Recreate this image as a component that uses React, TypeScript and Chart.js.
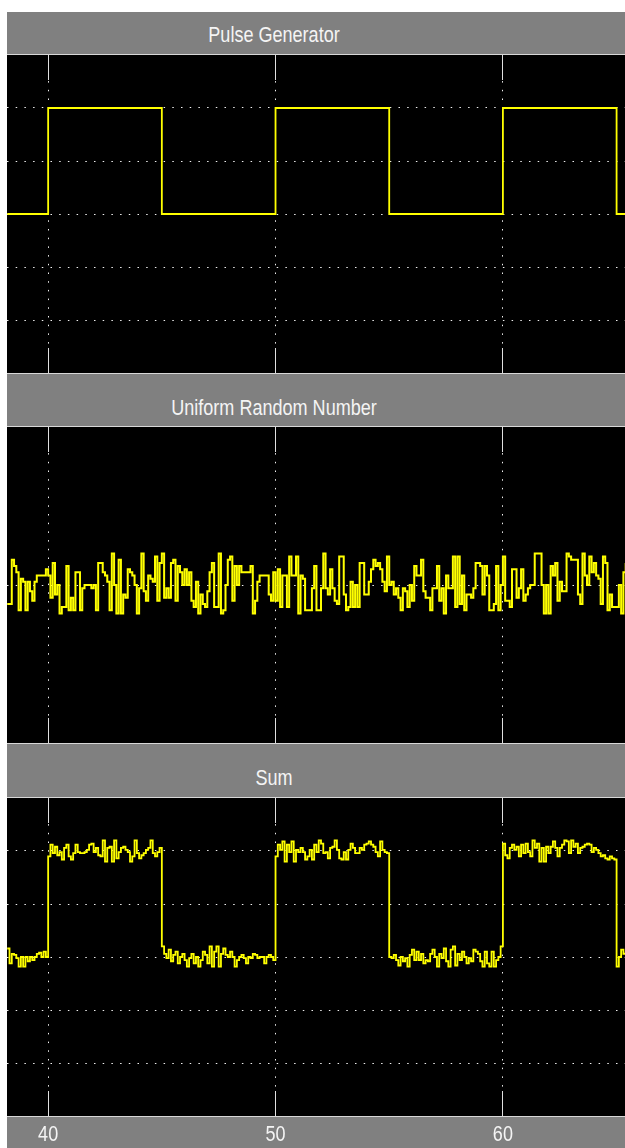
import React, { useEffect, useRef } from "react";
import { Chart, registerables } from "chart.js";
Chart.register(...registerables);

// ---- data ----
const X_MIN = 38.19;
const X_MAX = 65.37;
const X_TICKS = [40, 50, 60];
const X_TICK_LABELS = ["40", "50", "60"];
const PANEL_TITLES = ["Pulse Generator", "Uniform Random Number", "Sum"];

const SAMPLE_START = 38.2;
const SAMPLE_TIME = 0.1;

const PULSE_TIMES = [38.2, 40, 45, 50, 55, 60, 65, 65.4];
const PULSE_VALUES = [0, 1, 0, 1, 0, 1, 0, 0];

const RANDOM_VALUES = [
  -0.06, -0.06, 0.08, 0.06, 0.04, -0.08, 0.02, 0.01, -0.08, 0.01, -0.02, -0.05, 0.01, 0.03, 0.03, 0.03, 0.03, 0.05, 0.03, -0.04,
  0.07, -0.03, 0.0, -0.09, -0.07, -0.07, 0.06, -0.08, -0.04, -0.08, 0.04, 0.04, -0.08, -0.01, 0.0, 0.0, 0.0, -0.01, 0.0, -0.08,
  0.07, 0.07, 0.04, 0.03, 0.01, -0.08, 0.1, 0.0, -0.09, 0.08, -0.09, -0.03, -0.04, 0.05, 0.04, 0.03, 0.0, -0.09, -0.01, 0.1,
  -0.02, -0.05, 0.03, 0.02, 0.01, 0.09, -0.05, 0.07, 0.1, -0.04, -0.01, -0.04, 0.07, 0.08, -0.05, 0.06, 0.04, 0.0, 0.05, 0.0,
  0.04, -0.05, -0.07, 0.01, -0.09, -0.03, -0.06, -0.07, -0.02, 0.04, 0.07,
  -0.07, -0.07, 0.1, -0.09, -0.08, 0.0, 0.08, 0.09, -0.05, 0.06, 0.0, 0.06, 0.04, 0.04, 0.04, 0.04, 0.06, -0.09, -0.05, 0.01,
  0.03, 0.03, 0.03, 0.03, -0.03, -0.05, 0.04, -0.05, 0.05, -0.07, 0.03, 0.03, -0.07, 0.09, 0.03, 0.03, 0.09, -0.09, 0.03, 0.02,
  -0.08, -0.08, -0.08, -0.01, 0.06, -0.08, -0.08, -0.01, 0.1, -0.01, -0.03, 0.05, -0.01, -0.05, -0.06, 0.09, 0.09, -0.03, -0.08, -0.07,
  0.01, -0.07, 0.0, -0.07, 0.07, 0.07, -0.03, -0.03, 0.01, 0.05, 0.08, 0.06, 0.07, 0.05, 0.01, -0.02, 0.09, 0.0, 0.01, -0.03,
  -0.01, -0.04, -0.08, -0.01, -0.02, -0.07, 0.0, -0.05, 0.06, 0.03, 0.03,
  0.08, -0.02, -0.04, -0.04, -0.08, -0.01, -0.01, 0.06, -0.05, -0.01, -0.09, 0.03, -0.01, -0.01, 0.09, -0.07, 0.09, -0.06, 0.03, -0.08,
  -0.03, -0.03, -0.04, -0.01, 0.07, 0.07, 0.06, -0.03, 0.06, 0.03, -0.08, -0.08, -0.06, 0.06, -0.08, 0.0, 0.09, -0.05, -0.05, -0.07,
  0.05, 0.05, -0.04, -0.01, 0.05, -0.05, -0.03, -0.01, 0.0, 0.0, 0.1, 0.1, 0.1, 0.0, -0.09, 0.0, -0.09, 0.06, 0.03, 0.07,
  -0.05, 0.01, -0.02, -0.02, 0.1, 0.09, 0.08, 0.08, 0.08, -0.03, -0.06, 0.1, 0.03, 0.0, 0.09, 0.04, 0.07, 0.03, 0.02, -0.06,
  0.09, 0.07, -0.08, -0.03, -0.07, -0.07, -0.07, 0.0, -0.09, 0.04, 0.07,
];

const SUM_VALUES = [
  0.08, -0.06, 0.03, 0.02, -0.01, -0.09, 0.0, -0.09, 0.0, -0.04, 0.0, -0.03, 0.0, 0.03, 0.04, 0.0, 0.05, 0.0,
  0.95, 1.06, 0.98, 1.04, 0.96, 0.99, 0.92, 1.03, 1.06, 0.95, 0.92, 0.98, 1.06, 0.99, 0.98, 0.98, 0.99, 1.01, 1.06, 1.07,
  0.99, 1.03, 0.96, 0.95, 1.1, 0.9, 1.03, 1.04, 0.9, 1.1, 0.93, 0.99, 1.03, 1.04, 1.01, 0.99, 0.9, 0.95, 1.1, 0.98,
  0.93, 0.96, 0.98, 1.01, 1.03, 1.1, 0.98, 0.95, 0.99, 1.03,
  0.1, 0.03, -0.01, 0.07, -0.04, 0.02, 0.05, -0.06, 0.0, 0.03, -0.03, -0.09, -0.01, 0.03, -0.06, 0.0, -0.09, -0.03, 0.05, 0.02,
  -0.06, 0.1, -0.09, 0.05, 0.1, -0.09, 0.03, 0.08, 0.02, 0.0, 0.05, 0.0, -0.09, -0.03, 0.0, 0.02, -0.01, -0.06, 0.0, -0.01,
  0.03, 0.02, -0.01, 0.0, 0.0, -0.06, 0.0, 0.02, 0.0, -0.03,
  0.95, 1.06, 1.01, 1.09, 0.9, 1.06, 0.99, 1.09, 0.9, 1.01, 0.99, 1.03, 0.99, 0.92, 0.95, 1.01, 0.92, 1.06, 0.99, 1.1,
  1.07, 0.98, 0.99, 0.93, 1.03, 1.04, 1.1, 1.01, 0.93, 0.92, 0.99, 0.92, 1.01, 1.07, 1.03, 0.98, 0.98, 1.03, 1.01, 1.06,
  1.07, 1.09, 1.06, 1.04, 0.99, 0.95, 1.09, 1.01, 0.99, 0.98,
  0.0, -0.01, 0.02, -0.03, -0.08, 0.0, -0.04, -0.01, -0.09, 0.02, 0.07, -0.03, 0.05, -0.03, 0.03, -0.06, -0.03, -0.04, 0.03, 0.07,
  0.0, -0.09, 0.03, -0.01, 0.08, -0.04, -0.09, 0.07, 0.1, -0.08, 0.03, -0.03, 0.05, 0.0, -0.06, -0.01, -0.04, 0.07, 0.05, 0.03,
  -0.04, -0.09, 0.05, -0.06, -0.09, 0.05, -0.09, -0.03, 0.0, 0.1,
  1.07, 0.96, 0.93, 1.03, 1.06, 1.01, 1.04, 0.95, 1.06, 0.98, 1.07, 0.99, 0.95, 1.1, 1.03, 1.07, 0.9, 1.03, 0.9, 1.04,
  0.98, 1.04, 1.09, 1.03, 0.95, 1.03, 1.06, 1.1, 1.09, 0.98, 1.1, 1.04, 1.07, 0.98, 1.03, 1.04, 1.06, 1.07, 1.06, 0.99,
  1.03, 1.01, 0.98, 0.95, 0.96, 0.93, 0.92, 0.95, 0.93, 0.92,
  -0.09, 0.0, 0.07, 0.03, 0.05,
];

const PULSE_Y_RANGE = [-1.5, 1.5];
const PULSE_Y_GRID = [-1, -0.5, 0, 0.5, 1];
const RANDOM_Y_RANGE = [-0.5, 0.5];
const RANDOM_Y_GRID = [0];
const SUM_Y_RANGE = [-1.5, 1.5];
const SUM_Y_GRID = [-1, -0.5, 0, 0.5, 1];

// ---- style ----
const GRAY = "#808080";
const LINE_LIGHT = "#d8d8d8";
const GRID_COLOR = "#f0f0f0";
const TICK_COLOR = "#e0e0e0";
const TRACE = "#ffff00";
const TEXT = "#f4f4f4";
const FONT = "'Liberation Sans', Arial, sans-serif";
const WIDTH = 618;
const TICK_LEN = 25;

type Pt = { x: number; y: number };

function samplePoints(values: number[]): Pt[] {
  return values.map((v, i) => ({ x: SAMPLE_START + i * SAMPLE_TIME, y: v }));
}

function ScopePlot(props: {
  points: Pt[];
  yRange: number[];
  yGrid: number[];
  height: number;
  showAxis: boolean;
  lineWidth: number;
}) {
  const ref = useRef<HTMLCanvasElement>(null);
  useEffect(() => {
    const canvas = ref.current;
    if (!canvas) return;
    const showAxis = props.showAxis;
    const scopePlugin = {
      id: "scopeBg",
      beforeDraw(chart: any) {
        const { ctx, chartArea: a, width, height } = chart;
        ctx.save();
        ctx.fillStyle = GRAY;
        ctx.fillRect(0, 0, width, height);
        ctx.fillStyle = "#000000";
        ctx.fillRect(a.left, a.top, a.right - a.left, a.bottom - a.top);
        ctx.restore();
      },
      beforeDatasetsDraw(chart: any) {
        const { ctx, chartArea: a } = chart;
        const xs = chart.scales.x;
        ctx.save();
        ctx.strokeStyle = TICK_COLOR;
        ctx.lineWidth = 1;
        ctx.beginPath();
        xs.ticks.forEach((t: any) => {
          const px = Math.round(xs.getPixelForValue(t.value) - 0.5) + 0.5;
          ctx.moveTo(px, a.top);
          ctx.lineTo(px, a.top + TICK_LEN);
          ctx.moveTo(px, a.bottom - TICK_LEN);
          ctx.lineTo(px, a.bottom);
        });
        ctx.stroke();
        if (showAxis) {
          ctx.strokeStyle = LINE_LIGHT;
          ctx.beginPath();
          ctx.moveTo(0, a.bottom + 0.5);
          ctx.lineTo(chart.width, a.bottom + 0.5);
          ctx.stroke();
        }
        ctx.restore();
      },
      afterDraw(chart: any) {
        if (!showAxis) return;
        const xs = chart.scales.x;
        const a = chart.chartArea;
        const ctx = chart.ctx;
        ctx.save();
        ctx.fillStyle = TEXT;
        ctx.font = `22px ${FONT}`;
        ctx.textAlign = "center";
        ctx.textBaseline = "middle";
        xs.ticks.forEach((t: any) => {
          const px = xs.getPixelForValue(t.value);
          ctx.save();
          ctx.translate(px, a.bottom + 19);
          ctx.scale(0.82, 1);
          ctx.fillText(X_TICK_LABELS[X_TICKS.indexOf(t.value)], 0, 0);
          ctx.restore();
        });
        ctx.restore();
      },
    };
    const chart = new Chart(canvas, {
      type: "line",
      data: {
        datasets: [
          {
            data: props.points,
            stepped: "before",
            borderColor: TRACE,
            borderWidth: props.lineWidth,
            pointRadius: 0,
            fill: false,
          } as any,
        ],
      },
      options: {
        animation: false,
        responsive: false,
        events: [],
        layout: { padding: 0 },
        plugins: { legend: { display: false }, tooltip: { enabled: false } },
        scales: {
          x: {
            type: "linear",
            min: X_MIN,
            max: X_MAX,
            afterBuildTicks: (s: any) => {
              s.ticks = X_TICKS.map((v) => ({ value: v }));
            },
            afterFit: (s: any) => {
              s.height = showAxis ? 32 : 0;
            },
            ticks: { display: false },
            grid: { color: GRID_COLOR, lineWidth: 1, drawTicks: false },
            border: { display: false, dash: [1.5, 7.2] },
          },
          y: {
            type: "linear",
            min: props.yRange[0],
            max: props.yRange[1],
            afterBuildTicks: (s: any) => {
              s.ticks = props.yGrid.map((v) => ({ value: v }));
            },
            afterFit: (s: any) => {
              s.width = 0;
            },
            ticks: { display: false },
            grid: { color: GRID_COLOR, lineWidth: 1, drawTicks: false },
            border: { display: false, dash: [1.5, 7.2] },
          },
        },
      } as any,
      plugins: [scopePlugin],
    });
    return () => chart.destroy();
  }, []);
  return <canvas ref={ref} width={WIDTH} height={props.height} style={{ display: "block" }} />;
}

function Header(props: { title: string; height: number; textTop: number; borderTop: boolean }) {
  return (
    <div
      style={{
        position: "relative",
        height: props.height,
        background: GRAY,
        borderTop: props.borderTop ? `1px solid ${LINE_LIGHT}` : "none",
        borderBottom: `1px solid ${LINE_LIGHT}`,
        overflow: "hidden",
      }}
    >
      <span
        style={{
          position: "absolute",
          left: 266.5,
          top: props.textTop,
          transform: "translateX(-50%) scaleX(0.82)",
          whiteSpace: "nowrap",
          fontFamily: FONT,
          fontSize: 22,
          lineHeight: "22px",
          color: TEXT,
        }}
      >
        {props.title}
      </span>
    </div>
  );
}

export default function App() {
  const pulsePts = PULSE_TIMES.map((t, i) => ({ x: t, y: PULSE_VALUES[i] }));
  return (
    <div style={{ position: "absolute", left: 7, top: 12, width: WIDTH }}>
      <Header title={PANEL_TITLES[0]} height={42} textTop={12} borderTop={false} />
      <ScopePlot points={pulsePts} yRange={PULSE_Y_RANGE} yGrid={PULSE_Y_GRID} height={318} showAxis={false} lineWidth={1.8} />
      <Header title={PANEL_TITLES[1]} height={52} textTop={23} borderTop={true} />
      <ScopePlot points={samplePoints(RANDOM_VALUES)} yRange={RANDOM_Y_RANGE} yGrid={RANDOM_Y_GRID} height={316} showAxis={false} lineWidth={2} />
      <Header title={PANEL_TITLES[2]} height={53} textTop={23} borderTop={true} />
      <ScopePlot points={samplePoints(SUM_VALUES)} yRange={SUM_Y_RANGE} yGrid={SUM_Y_GRID} height={350} showAxis={true} lineWidth={1.8} />
    </div>
  );
}
